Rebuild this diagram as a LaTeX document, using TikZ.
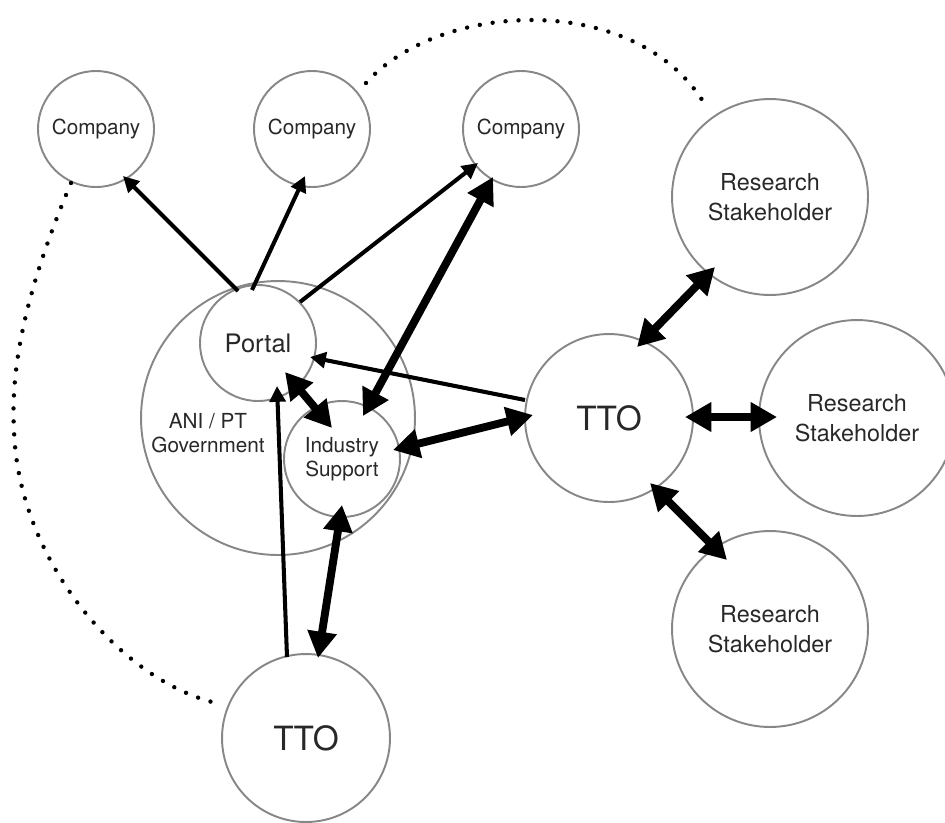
\documentclass[tikz,border=0pt]{standalone}
\usepackage{fontspec}
\setmainfont{TeX Gyre Heros}
\usetikzlibrary{arrows.meta}
\definecolor{circ}{RGB}{135,135,135}
\definecolor{txt}{RGB}{40,40,40}
\begin{document}
\begin{tikzpicture}[x=0.02cm,y=-0.02cm,
  bubble/.style={circle,draw=circ,line width=1.1pt,inner sep=0pt,text=txt,align=center},
  smallbub/.style={bubble,minimum size=2.32cm,font=\fontsize{11.8}{13.6}\selectfont},
  bigbub/.style={bubble,minimum size=3.92cm,font=\fontsize{13.3}{17}\selectfont},
  ttobub/.style={bubble,minimum size=3.36cm,font=\fontsize{19}{22}\selectfont},
  onearrow/.style={line width=2.3pt,-{Triangle[length=9pt,width=9pt]}},
  twoarrow/.style={line width=4.5pt,{Triangle[length=15pt,width=16pt]}-{Triangle[length=15pt,width=16pt]}},
  dots/.style={line width=2.5pt,line cap=round,dash pattern=on 0pt off 7.4pt}]
\useasboundingbox (0,0) rectangle (945,822);

% circles
\node[smallbub] (c1) at (96,129) {Company};
\node[smallbub] (c2) at (312,129) {Company};
\node[smallbub] (c3) at (521,129) {Company};
\node[bigbub] (rs1) at (770,197) {Research\\Stakeholder};
\node[bigbub] (rs2) at (857,418) {Research\\Stakeholder};
\node[bigbub] (rs3) at (770,629) {Research\\Stakeholder};
\node[bubble,minimum size=5.48cm] (gov) at (278,418) {};
\node[text=txt,align=center,font=\fontsize{11.8}{13.6}\selectfont] (govlabel) at (208,433) {ANI / PT\\Government};
\node[smallbub,font=\fontsize{14.5}{17}\selectfont] (portal) at (258,343) {Portal};
\node[smallbub] (ind) at (342,459) {Industry\\Support};
\node[ttobub] (tto1) at (609,418) {TTO};
\node[ttobub] (tto2) at (306,738) {TTO};

% single arrows
\draw[onearrow] ([shift={(-20,-52)}]portal.center) -- ([shift={(27,47)}]c1.center);
\draw[onearrow] ([shift={(-6,-53)}]portal.center) -- ([shift={(-7,47)}]c2.center);
\draw[onearrow] ([shift={(42,-41)}]portal.center) -- ([shift={(-43,34)}]c3.center);
\draw[onearrow] ([shift={(-84,-18)}]tto1.center) -- ([shift={(52,14)}]portal.center);
\draw[onearrow] ([shift={(-19,-81)}]tto2.center) -- ([shift={(19,43)}]portal.center);

% double arrows
\draw[twoarrow] ([shift={(-28,48)}]c3.center) -- ([shift={(21,-43)}]ind.center);
\draw[twoarrow] ([shift={(27,29)}]portal.center) -- ([shift={(-10,-31)}]ind.center);
\draw[twoarrow] ([shift={(51,-9)}]ind.center) -- ([shift={(-76,-3)}]tto1.center);
\draw[twoarrow] ([shift={(12,-80)}]tto2.center) -- ([shift={(0,46)}]ind.center);
\draw[twoarrow] ([shift={(28,-71)}]tto1.center) -- ([shift={(-55,70)}]rs1.center);
\draw[twoarrow] ([shift={(76,-1)}]tto1.center) -- ([shift={(-80,-1)}]rs2.center);
\draw[twoarrow] ([shift={(41,65)}]tto1.center) -- ([shift={(-43,-69)}]rs3.center);

% dotted curves
\coordinate (d1s) at ([shift={(54,-46)}]c2.center);
\coordinate (d1e) at ([shift={(-63,-89)}]rs1.center);
\draw[dots] (d1s) .. controls (440,0) and (640,-10) .. (d1e);
\coordinate (d2s) at ([shift={(-25,54)}]c1.center);
\coordinate (d2e) at ([shift={(-90,-35)}]tto2.center);
\draw[dots] (d2s) .. controls (30,280) and (10,360) .. (14,430)
  .. controls (18,560) and (120,680) .. (d2e);
\end{tikzpicture}
\end{document}
